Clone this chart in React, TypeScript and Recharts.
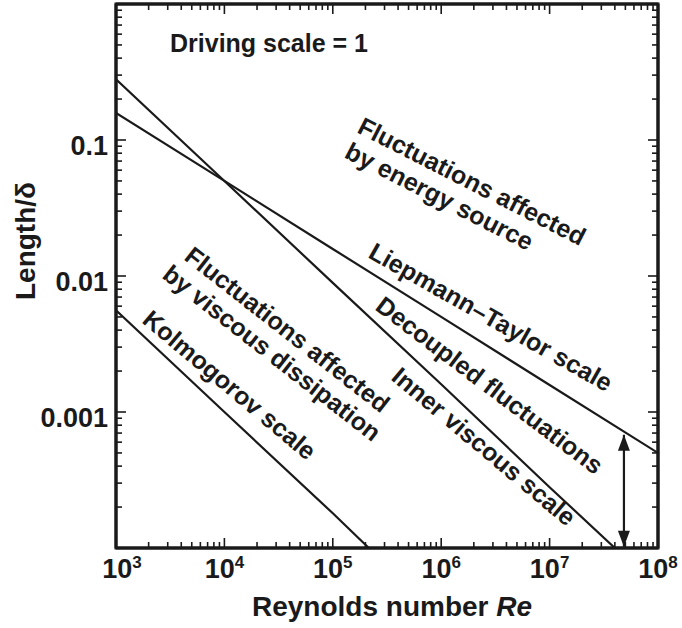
import React from 'react';
import { LineChart, Line, XAxis, YAxis, Customized, ReferenceArea } from 'recharts';

// ---- axis ticks ----
const xMajorTicks = [1e3, 1e4, 1e5, 1e6, 1e7, 1e8];
const xTickExponents = ['3', '4', '5', '6', '7', '8'];
const yMajorTicks = [1e-4, 1e-3, 1e-2, 1e-1, 1];
const yTickLabels = ['', '0.001', '0.01', '0.1', ''];
const minorMultipliers = [2, 3, 4, 5, 6, 7, 8, 9];

const xMinorTicks = xMajorTicks.slice(0, -1).flatMap((m) => minorMultipliers.map((k) => k * m));
const yMinorTicks = yMajorTicks.slice(0, -1).flatMap((m) => minorMultipliers.map((k) => k * m));
const xAllTicks = [...xMajorTicks, ...xMinorTicks];
const yAllTicks = [...yMajorTicks, ...yMinorTicks];

// ---- series (Re, Length/delta) ----
const kolmogorov = [
  { re: 1e3, v: 0.0056 },
  { re: 1e4, v: 0.001 },
  { re: 1e5, v: 0.00018 },
  { re: 2.15e5, v: 0.0001 },
];
const innerViscous = [
  { re: 1e3, v: 0.28 },
  { re: 1e4, v: 0.05 },
  { re: 1e5, v: 0.0089 },
  { re: 1e6, v: 0.0016 },
  { re: 1e7, v: 0.00028 },
  { re: 4e7, v: 0.0001 },
];
const liepmannTaylor = [
  { re: 1e3, v: 0.158 },
  { re: 1e4, v: 0.05 },
  { re: 1e5, v: 0.0158 },
  { re: 1e6, v: 0.005 },
  { re: 1e7, v: 0.00158 },
  { re: 1e8, v: 0.0005 },
];
const arrowSpan = [
  { re: 4.85e7, v: 0.00068 },
  { re: 4.85e7, v: 0.000102 },
];

const FONT = '"Liberation Sans", Arial, Helvetica, sans-serif';
const INK = '#1a1a1a';
const MAJOR_LEN = 10;
const MINOR_LEN = 6;

const XTickBottom = (props: any) => {
  const { x, y, payload } = props;
  const idx = xMajorTicks.indexOf(payload.value);
  const major = idx >= 0;
  return (
    <g>
      <line x1={x} x2={x} y1={y} y2={y - (major ? MAJOR_LEN : MINOR_LEN)} stroke={INK} strokeWidth={1.6} />
      {major && (
        <text
          x={x + (idx === 0 ? 6 : 0)}
          y={y + 30}
          textAnchor="middle"
          fontFamily={FONT}
          fontWeight="bold"
          fontSize={27}
          fill={INK}
        >
          10
          <tspan dy={-10} fontSize={17}>
            {xTickExponents[idx]}
          </tspan>
        </text>
      )}
    </g>
  );
};

const XTickTop = (props: any) => {
  const { x, y, payload } = props;
  const major = xMajorTicks.indexOf(payload.value) >= 0;
  return <line x1={x} x2={x} y1={y} y2={y + (major ? MAJOR_LEN : MINOR_LEN)} stroke={INK} strokeWidth={1.6} />;
};

const YTickLeft = (props: any) => {
  const { x, y, payload } = props;
  const idx = yMajorTicks.indexOf(payload.value);
  const major = idx >= 0;
  return (
    <g>
      <line x1={x} x2={x + (major ? MAJOR_LEN : MINOR_LEN)} y1={y} y2={y} stroke={INK} strokeWidth={1.6} />
      {major && yTickLabels[idx] && (
        <text x={x - 8} y={y + 15} textAnchor="end" fontFamily={FONT} fontWeight="bold" fontSize={27} fill={INK}>
          {yTickLabels[idx]}
        </text>
      )}
    </g>
  );
};

const YTickRight = (props: any) => {
  const { x, y, payload } = props;
  const major = yMajorTicks.indexOf(payload.value) >= 0;
  return <line x1={x} x2={x - (major ? MAJOR_LEN : MINOR_LEN)} y1={y} y2={y} stroke={INK} strokeWidth={1.6} />;
};

const ArrowHead = (props: any) => {
  const { cx, cy, index } = props;
  if (cx == null || cy == null) return <g key={index} />;
  const L = 16;
  const W = 6;
  const pts =
    index === 0
      ? `${cx},${cy} ${cx - W},${cy + L} ${cx + W},${cy + L}`
      : `${cx},${cy} ${cx - W},${cy - L} ${cx + W},${cy - L}`;
  return <polygon key={index} points={pts} fill={INK} />;
};

const RotText = ({ x, y, angle, lines, dx2 = 0, lh = 28 }: any) => (
  <g transform={`translate(${x},${y}) rotate(${angle})`}>
    <text x={0} y={0} fontFamily={FONT} fontWeight="bold" fontSize={25} fill={INK}>
      {lines.map((l: string, i: number) => (
        <tspan key={i} x={i === 0 ? 0 : dx2} dy={i === 0 ? 0 : lh}>
          {l}
        </tspan>
      ))}
    </text>
  </g>
);

const Annotations = () => (
  <g>
    <text x={170} y={52} fontFamily={FONT} fontWeight="bold" fontSize={25} fill={INK}>
      Driving scale = 1
    </text>
    <RotText x={356} y={132} angle={27} lines={['Fluctuations affected', 'by energy source']} dx2={0} />
    <RotText x={367} y={257} angle={29.5} lines={['Liepmann\u2013Taylor scale']} />
    <RotText x={374} y={309} angle={37} lines={['Decoupled fluctuations']} />
    <RotText x={390} y={379} angle={40} lines={['Inner viscous scale']} />
    <RotText x={183} y={259} angle={38} lines={['Fluctuations affected', 'by viscous dissipation']} dx2={-6} />
    <RotText x={141} y={322} angle={40} lines={['Kolmogorov scale']} />
    <text
      x={35}
      y={241}
      transform="rotate(-90, 35, 241)"
      textAnchor="middle"
      fontFamily={FONT}
      fontWeight="bold"
      fontSize={28}
      fill={INK}
    >
      Length/δ
    </text>
    <text x={392} y={616} textAnchor="middle" fontFamily={FONT} fontWeight="bold" fontSize={28} fill={INK}>
      Reynolds number <tspan fontStyle="italic">Re</tspan>
    </text>
  </g>
);

const axisLine = { stroke: INK, strokeWidth: 3 };

export default function App() {
  return (
    <div style={{ position: 'absolute', left: 0, top: 0, width: 682, height: 628, background: '#fff' }}>
      <LineChart width={682} height={628} margin={{ top: 3, right: 23, bottom: 0, left: 0 }}>
        <XAxis
          xAxisId="b"
          orientation="bottom"
          dataKey="re"
          type="number"
          scale="log"
          domain={[1e3, 1e8]}
          allowDataOverflow
          ticks={xAllTicks}
          interval={0}
          tickLine={false}
          tickSize={0}
          tickMargin={0}
          tick={<XTickBottom />}
          axisLine={axisLine}
          height={80}
        />
        <XAxis
          xAxisId="t"
          orientation="top"
          dataKey="re"
          type="number"
          scale="log"
          domain={[1e3, 1e8]}
          allowDataOverflow
          ticks={xAllTicks}
          interval={0}
          tickLine={false}
          tickSize={0}
          tickMargin={0}
          tick={<XTickTop />}
          axisLine={axisLine}
          height={1}
        />
        <YAxis
          yAxisId="l"
          orientation="left"
          dataKey="v"
          type="number"
          scale="log"
          domain={[1e-4, 1]}
          allowDataOverflow
          ticks={yAllTicks}
          interval={0}
          tickLine={false}
          tickSize={0}
          tickMargin={0}
          tick={<YTickLeft />}
          axisLine={axisLine}
          width={116}
        />
        <YAxis
          yAxisId="r"
          orientation="right"
          dataKey="v"
          type="number"
          scale="log"
          domain={[1e-4, 1]}
          allowDataOverflow
          ticks={yAllTicks}
          interval={0}
          tickLine={false}
          tickSize={0}
          tickMargin={0}
          tick={<YTickRight />}
          axisLine={axisLine}
          width={1}
        />
        <ReferenceArea
          xAxisId="b"
          yAxisId="l"
          x1={1e3}
          x2={1e8}
          y1={1e-4}
          y2={1}
          fill="none"
          fillOpacity={0}
          stroke={INK}
          strokeWidth={3}
          ifOverflow="visible"
        />
        <Line xAxisId="b" yAxisId="l" data={kolmogorov} dataKey="v" type="linear" stroke={INK} strokeWidth={2.2} dot={false} activeDot={false} isAnimationActive={false} />
        <Line xAxisId="b" yAxisId="l" data={innerViscous} dataKey="v" type="linear" stroke={INK} strokeWidth={2.2} dot={false} activeDot={false} isAnimationActive={false} />
        <Line xAxisId="b" yAxisId="l" data={liepmannTaylor} dataKey="v" type="linear" stroke={INK} strokeWidth={2.2} dot={false} activeDot={false} isAnimationActive={false} />
        <Line xAxisId="t" yAxisId="r" data={arrowSpan} dataKey="v" type="linear" stroke={INK} strokeWidth={2.2} dot={<ArrowHead />} activeDot={false} isAnimationActive={false} />
        <Customized component={Annotations} />
      </LineChart>
    </div>
  );
}
